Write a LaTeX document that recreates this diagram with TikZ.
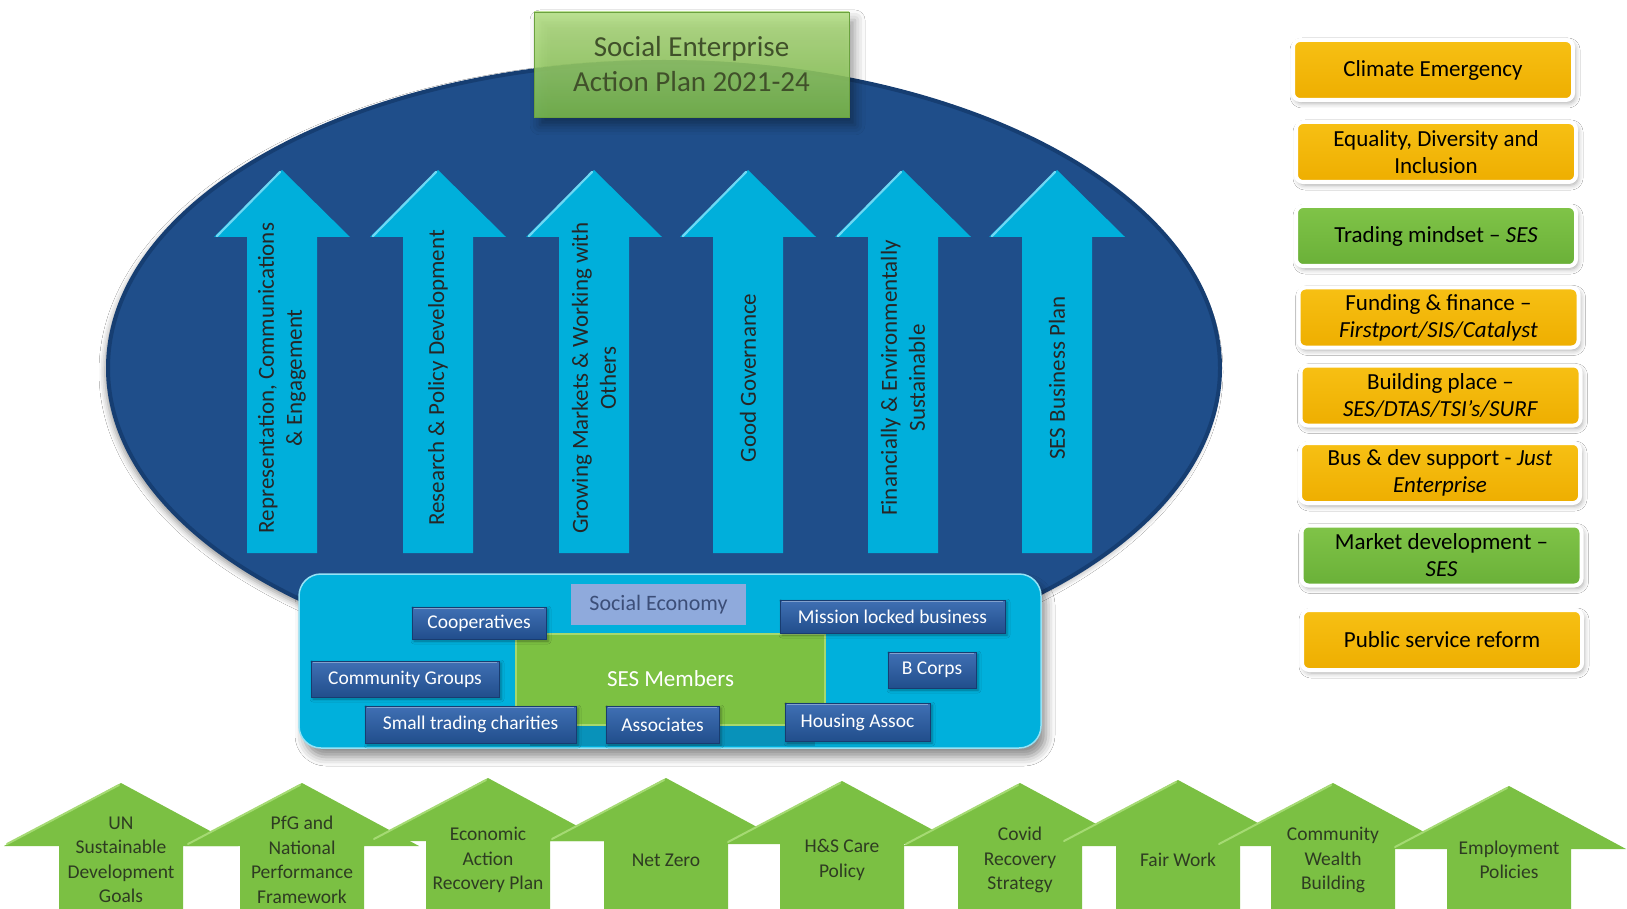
\documentclass[tikz,border=0pt]{standalone}
\usepackage{fontspec}
\setmainfont{Carlito}
\usetikzlibrary{shadows.blur}

\definecolor{ellblue}{RGB}{31,78,138}
\definecolor{ellrim}{RGB}{22,62,114}
\definecolor{pillar}{RGB}{0,175,219}
\definecolor{pillarhi}{RGB}{110,216,244}
\definecolor{boxcyan}{RGB}{0,176,220}
\definecolor{boxrim}{RGB}{150,226,245}
\definecolor{pilltop}{RGB}{64,112,180}
\definecolor{pillbot}{RGB}{33,78,140}
\definecolor{pillrim}{RGB}{24,60,112}
\definecolor{sesgreen}{RGB}{124,193,66}
\definecolor{seshi}{RGB}{165,216,110}
\definecolor{sesshade}{RGB}{8,146,186}
\definecolor{lavender}{RGB}{143,170,220}
\definecolor{lavtext}{RGB}{60,78,120}
\definecolor{goldtop}{RGB}{247,192,20}
\definecolor{goldbot}{RGB}{238,174,0}
\definecolor{leaftop}{RGB}{128,196,72}
\definecolor{leafbot}{RGB}{106,176,56}
\definecolor{basegreen}{RGB}{123,192,67}
\definecolor{basehi}{RGB}{165,218,115}
\definecolor{basetext}{RGB}{46,60,34}
\definecolor{titletop}{RGB}{178,222,130}
\definecolor{titlebot}{RGB}{126,190,74}
\definecolor{titletext}{RGB}{64,80,42}

\tikzset{
  pillartext/.style={rotate=90, align=center, text=black!85,
    font=\fontsize{23}{28}\selectfont},
  member/.style={draw=pillrim, line width=0.8, top color=pilltop,
    bottom color=pillbot, text=white, inner sep=0,
    font=\fontsize{19.5}{22}\selectfont,
    path picture={
      \draw[white, opacity=0.35, line width=1.5]
        ([xshift=2pt,yshift=-1.5pt]path picture bounding box.north west) --
        ([xshift=-2pt,yshift=-1.5pt]path picture bounding box.north east);},
    blur shadow={shadow xshift=2pt, shadow yshift=-2pt,
      shadow blur radius=3pt, shadow opacity=35}},
  rbox/.style={rounded corners=7, minimum width=280, minimum height=60,
    align=center, text=black,
    font=\fontsize{23}{27}\selectfont, draw=white, line width=4,
    blur shadow={shadow xshift=2pt, shadow yshift=-3pt,
      shadow blur radius=5pt, shadow opacity=35}},
  goldbox/.style={rbox, top color=goldtop, bottom color=goldbot},
  leafbox/.style={rbox, top color=leaftop, bottom color=leafbot},
  basetxt/.style={align=center, text=basetext,
    font=\fontsize{19.5}{24.5}\selectfont},
}

\begin{document}
\begin{tikzpicture}[x=1pt,y=-1pt]
\useasboundingbox (0,0) rectangle (1627,909);
\fill[white] (0,0) rectangle (1627,909);
\clip (0,0) rectangle (1627,909);

% large oval backdrop
\path[fill=ellblue, draw=ellrim, line width=4,
  blur shadow={shadow xshift=-3pt, shadow yshift=-4pt,
    shadow blur radius=6pt, shadow opacity=40}]
  (664,368) ellipse [x radius=556pt, y radius=306pt];

% pillars
\foreach \cx/\nm/\txt in {
  282/p1/{Representation, Communications\\\& Engagement},
  438/p2/{Research \& Policy Development},
  594/p3/{Growing Markets \& Working with\\Others},
  748/p4/{Good Governance},
  903/p5/{Financially \& Environmentally\\Sustainable},
  1057/p6/{SES Business Plan}}
{
  \fill[pillar] (\cx,170) -- (\cx+68,237) -- (\cx+35,237) -- (\cx+35,553)
    -- (\cx-35,553) -- (\cx-35,237) -- (\cx-68,237) -- cycle;
  \draw[pillarhi, line width=2.2, line cap=round] (\cx-65,236) -- (\cx-2,172);
  \node[pillartext] (\nm) at (\cx,378) {\txt};
}

% title plate
\node[minimum width=315, minimum height=105, top color=titletop,
  bottom color=titlebot, fill opacity=0.86, text opacity=1,
  draw=titlebot!85!black, line width=0.6, align=center,
  font=\fontsize{29}{35}\selectfont, text=titletext,
  blur shadow={shadow xshift=6pt, shadow yshift=-8pt,
    shadow blur radius=10pt, shadow opacity=45}]
  (title) at (691.5,64.5) {Social Enterprise\\Action Plan 2021-24};

% social economy container
\node[minimum width=742, minimum height=174, rounded corners=22,
  fill=boxcyan, draw=boxrim, line width=1.5,
  blur shadow={shadow xshift=5pt, shadow yshift=-9pt,
    shadow blur radius=9pt, shadow opacity=45}]
  (economy) at (670,661) {};

\fill[sesshade] (530,655) rectangle (815,746);
\node[minimum width=309, minimum height=91, fill=sesgreen, draw=seshi,
  line width=2, text=white, font=\fontsize{23}{26}\selectfont]
  (ses) at (670.5,679) {SES Members};

\node[minimum width=175, minimum height=41, fill=lavender, text=lavtext,
  font=\fontsize{22}{26}\selectfont] (selabel) at (658.5,604.5) {Social Economy};

\node[member, minimum width=134, minimum height=32] (coop) at (479,623) {Cooperatives};
\node[member, minimum width=225, minimum height=33] (mission) at (892.5,616.5) {Mission locked business};
\node[member, minimum width=188, minimum height=36] (community) at (405,679) {Community Groups};
\node[member, minimum width=88, minimum height=36] (bcorps) at (932,670) {B Corps};
\node[member, minimum width=211, minimum height=37] (charities) at (470.5,724.5) {Small trading charities};
\node[member, minimum width=113, minimum height=37] (associates) at (662.5,724.5) {Associates};
\node[member, minimum width=145, minimum height=38] (housing) at (857.5,722) {Housing Assoc};

% policy drivers on the right
\node[goldbox] (climate) at (1433,70) {Climate Emergency};
\node[goldbox] (equality) at (1436,152) {Equality, Diversity and\\Inclusion};
\node[leafbox] (trading) at (1436,236) {Trading mindset – \textit{SES}};
\node[goldbox] (funding) at (1438.5,317.5) {Funding \& finance –\\\textit{Firstport/SIS/Catalyst}};
\node[goldbox] (place) at (1440.5,395.5) {Building place –\\\textit{SES/DTAS/TSI’s/SURF}};
\node[goldbox] (support) at (1440,473) {Bus \& dev support - \textit{Just}\\\textit{Enterprise}};
\node[leafbox] (market) at (1441.5,555.5) {Market development –\\\textit{SES}};
\node[goldbox] (reform) at (1442,640) {Public service reform};

% foundation arrows along the bottom
\foreach \cx/\ty/\nm/\txt in {
  121/783/b1/{UN\\Sustainable\\Development\\Goals},
  302/783/b2/{PfG and\\National\\Performance\\Framework},
  488/778/b3/{Economic\\Action\\Recovery Plan},
  666/778/b4/{Net Zero},
  842/781/b5/{H\&S Care\\Policy},
  1020/783/b6/{Covid\\Recovery\\Strategy},
  1178/780/b7/{Fair Work},
  1333/783/b8/{Community\\Wealth\\Building},
  1509/786/b9/{Employment\\Policies}}
{
  \fill[basegreen] (\cx,\ty) -- (\cx+117,\ty+63) -- (\cx+62,\ty+63) -- (\cx+62,915)
    -- (\cx-62,915) -- (\cx-62,\ty+63) -- (\cx-117,\ty+63) -- cycle;
  \draw[basehi, line width=2, line cap=round] (\cx-114,\ty+61) -- (\cx-2,\ty+2);
  \node[basetxt] (\nm) at (\cx,860) {\txt};
}
\end{tikzpicture}
\end{document}
